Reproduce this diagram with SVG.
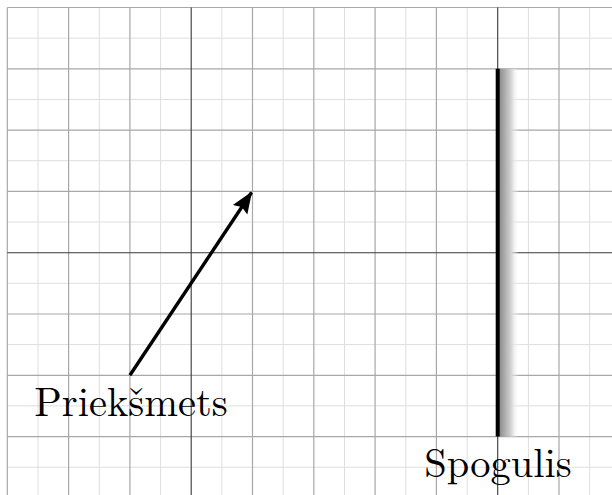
<svg xmlns="http://www.w3.org/2000/svg" width="612" height="495" viewBox="0 0 612 495">
<style>
.minor{stroke:#dedede;stroke-width:1;fill:none}
.major{stroke:#a8a8a8;stroke-width:1.2;fill:none}
.axis{stroke:#3a3a3a;stroke-width:1.1;fill:none}
.lbl{font-family:"Latin Modern Roman","Liberation Serif","DejaVu Serif",serif;font-size:40.5px;fill:#000;text-anchor:middle}
</style>
<defs>
<linearGradient id="shade" x1="0" y1="0" x2="1" y2="0">
<stop offset="0" stop-color="#8a8a8a"/>
<stop offset="0.6" stop-color="#d2d2d2"/>
<stop offset="1" stop-color="#ffffff" stop-opacity="0"/>
</linearGradient>
<marker id="head" viewBox="0 0 10 10" refX="9.5" refY="5" markerWidth="6.4" markerHeight="6.4" orient="auto" markerUnits="strokeWidth">
<path d="M0,1 L10,5 L0,9 L1.5,5 Z" fill="#000"/>
</marker>
</defs>
<rect width="612" height="495" fill="#fff"/>
<g id="grid">
<path class="minor" d="M38,7.5V495 M99.3,7.5V495 M160.6,7.5V495 M221.9,7.5V495 M283.2,7.5V495 M344.5,7.5V495 M405.8,7.5V495 M467.1,7.5V495 M528.4,7.5V495 M589.7,7.5V495 M7.3,38.1H612 M7.3,99.4H612 M7.3,160.7H612 M7.3,222H612 M7.3,283.3H612 M7.3,344.6H612 M7.3,405.9H612 M7.3,467.2H612"/>
<path class="major" d="M7.3,7.5V495 M68.6,7.5V495 M129.9,7.5V495 M252.5,7.5V495 M313.8,7.5V495 M375.1,7.5V495 M436.4,7.5V495 M559,7.5V495 M7.3,7.5H612 M7.3,68.8H612 M7.3,130.1H612 M7.3,191.4H612 M7.3,314H612 M7.3,375.3H612 M7.3,436.6H612"/>
<path class="axis" d="M191.2,7.5V495 M497.7,7.5V495 M7.3,252.7H612"/>
</g>
<g id="spogulis">
<rect x="499" y="68.8" width="20" height="367.8" fill="url(#shade)"/>
<line x1="497.7" y1="68.8" x2="497.7" y2="436.6" stroke="#000" stroke-width="4"/>
<text class="lbl" x="498" y="477">Spogulis</text>
</g>
<g id="prieksmets">
<text class="lbl" x="131" y="416">Priekšmets</text>
</g>
<g id="connectors">
<line x1="129.9" y1="375.3" x2="251.5" y2="192.5" stroke="#000" stroke-width="3.4" marker-end="url(#head)"/>
</g>
</svg>
